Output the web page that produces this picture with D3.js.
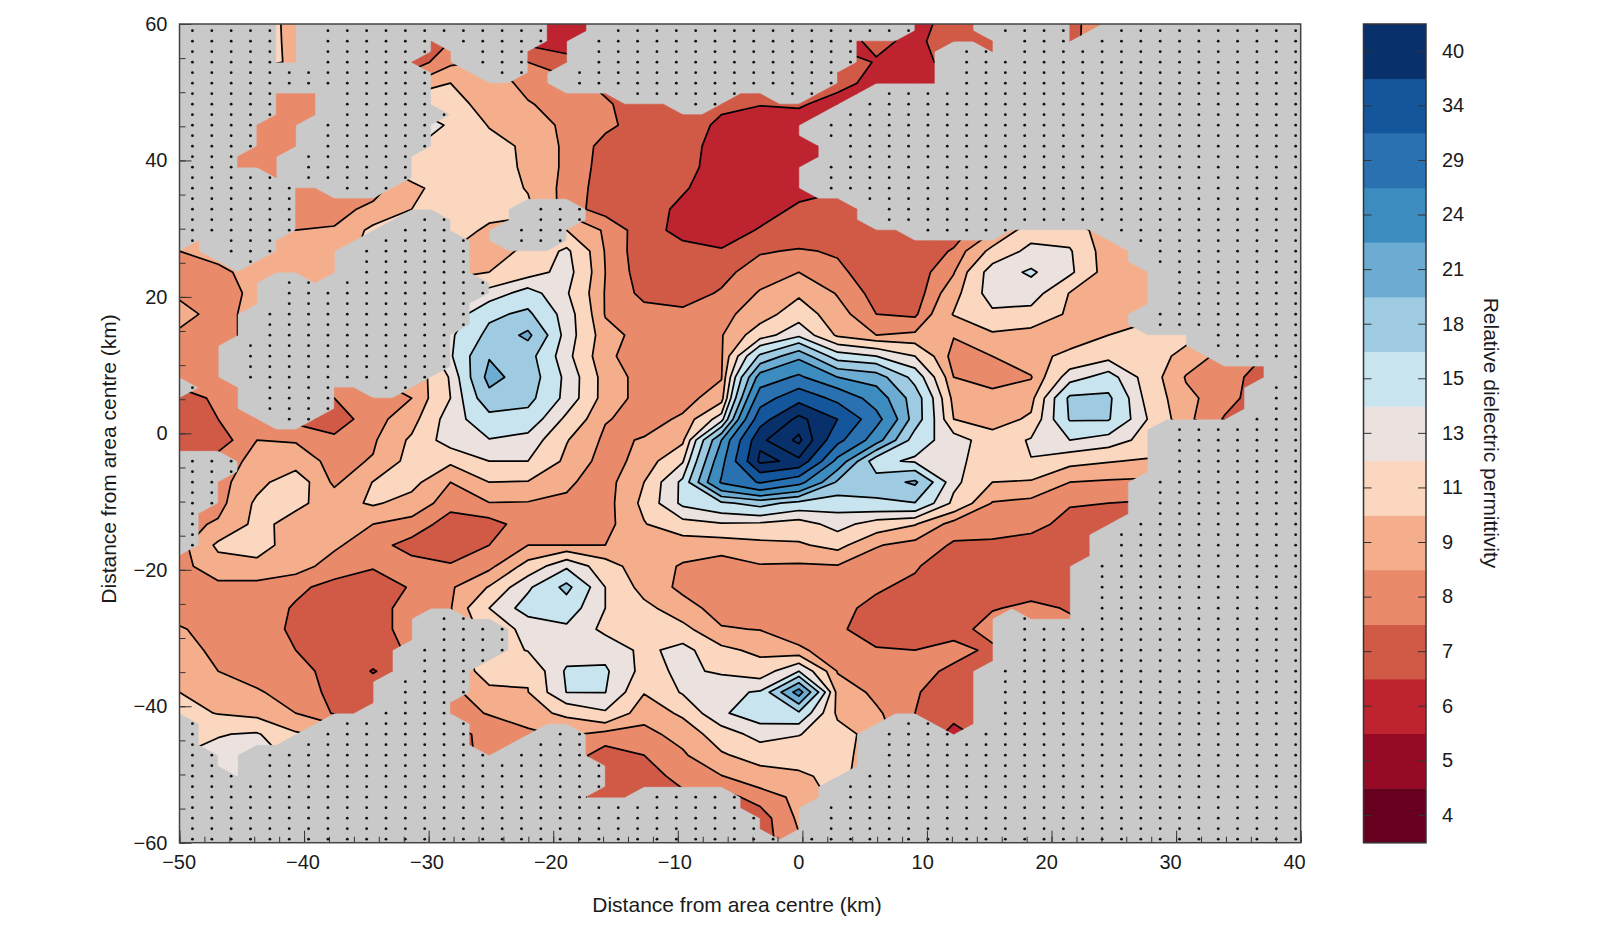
<!DOCTYPE html>
<html>
<head>
<meta charset="utf-8">
<title>Relative dielectric permittivity</title>
<script src="https://cdn.jsdelivr.net/npm/d3@7"></script>
<style>
  html, body { margin: 0; background: #fff; }
  text { font-family: "Liberation Sans", Arial, sans-serif; fill: #1a1a1a; }
</style>
</head>
<body>
<svg id="chart" width="1600" height="933"></svg>
<script>
// Colour bands, lowest first
const barLabels = [4, 5, 6, 7, 8, 9, 11, 13, 15, 18, 21, 24, 29, 34, 40];
const bandColors = ["#67001f", "#970a25", "#bd2430", "#d15a47", "#e98a6b", "#f5ae8b", "#fbd7bf", "#ebe2e0",
  "#c8e4ef", "#9ecae2", "#6dacd2", "#3d8cc0", "#2a71b2", "#14569c", "#08306b"];
// Contour levels, the two top ones stay inside the darkest band
const contourLevels = [3.5, 4.5, 5.5, 6.5, 7.5, 8.5, 10, 12, 14, 16.5, 19.5, 22.5, 26.5, 31.5, 37, 42, 46];

const xTicks = [-50, -40, -30, -20, -10, 0, 10, 20, 30, 40];
const yTicks = [-60, -40, -20, 0, 20, 40, 60];

// Survey nodes: every node sits dxKm / dyKm apart, covered ones listed per row as index runs
const nodeCols = 58;
const dxKm = 1.5536;
const dyKm = 1.539;
const topKm = 60.56;
const dotShiftKm = 1.04;
const coveredRuns = [
  "5-6 19-21 38-41 46-48", "5-6 19-21 38-41 46-47", "5-6 13 19-20 35-42 46", "5-6 13-14 18-20 35-39 42",
  "5-6 12-14 18-20 35-39", "13-15 18-19 34-39", "13-19 34-39", "5-7 13-22 29-30 33-35",
  "5-7 13-25 28-34", "5-7 14-33", "4-6 13-32", "4-6 13-32",
  "4-6 13-33", "3-5 12-33", "3-5 12-32", "5 12-32",
  "6-7 11-32", "6-34", "6-17 21-35", "6-11 14-17 21-35",
  "6-10 14-16 20-37 43-47", "1 5-9 15-16 20-48", "0-1 5-8 15-49", "0-2 4-8 15-49",
  "0-8 15-50", "0-4 7 16-50", "0-4 16-50", "0-4 15-50",
  "0-3 15-49", "0-3 15-49", "0-3 14-52", "0-2 14-52",
  "0-2 14-53", "0-2 14-56", "0-2 13-56", "1-3 8-9 12-55",
  "0-3 8-55", "0-3 8-55", "0-4 7-54", "0-50",
  "0-50", "0-50", "3-50", "3-50",
  "2-49", "2-49", "2-49", "1-49",
  "1-48", "1-47", "1-47", "0-47",
  "0-46", "0-46", "0-46", "0-46",
  "0-46", "0-12 15-42 44-46", "0-12 17-42", "0-12 17-42",
  "0-11 17-42", "0-11 16-42", "0-11 15-41", "0-10 15-41",
  "0-10 15-41", "0-10 14-41", "0-9 14-41", "1-7 15-36 39-41",
  "1-6 15-18 21-35 40", "1-5 15-17 21-35", "2-3 16 21-35", "2-3 22-35",
  "3 22-34", "22-33", "21-23 29-33", "29-32",
  "30-32", "30-32", "31"
];

// Permittivity read at every second node, one row per 2 node rows
const permittivity = [
  [9,9,10.8,9.5,9,8,6.5,7,8,6,5.8,6,6,6,6,6,6,6,6.5,6,7,7,7,7.2,8.2,8,8,8,8,8],
  [9,9,10.7,9.6,9,8,6.8,7.5,8,6.2,5.9,6,6,6,6,6,6,6,6.8,6.2,7.2,7,7.2,7.3,8,8,8,8,8,8],
  [9,9,10.6,9.7,9,8,6.9,8.2,8.6,7.5,6.9,6.5,6.5,6.5,6.5,6.5,6.8,7.3,6.4,6.45,6.55,7,7,7.5,8,8,8,8,8,8],
  [8.5,8.3,8.1,8.1,8.1,8,8.5,10,9.2,8.1,7.8,7.3,6.8,6.8,6.8,6.8,6.8,6.9,6.1,5.9,6,6.5,7,7.5,8,8,8,8,8,8],
  [8.5,8.3,8.2,8.2,8,9,11.5,10.6,9.4,8.6,8,7.6,7.1,6.9,6.7,6.55,6.65,6,6,6,6.3,7,7.5,8,8,8,8,8,8,8],
  [8.5,8.3,8.2,8.1,8,9,14,11.6,9.9,9.2,8.2,7.7,7.1,7,6.3,5.9,5.9,5.9,6,6.2,6.5,7,7.5,8,8,8,8,8,8,8],
  [8.5,8.3,8.2,8.1,8,9.5,12.2,10.9,10.6,9.7,8.2,7.2,7,6.9,6.1,5.9,5.9,6,6.2,6.5,6.8,7,7.5,8,8,8,8,8,8,8],
  [8.5,8.3,8.2,8.1,8,9.5,11.2,11,10.8,9.7,8.2,7.1,6.9,6.8,6.1,5.9,5.9,6,6.3,6.6,6.9,7,7.5,8,8,8,8,8,8,8],
  [8.5,8.3,8.2,8,8,8,9.5,11,10.8,9.9,8,7.1,6.9,6.6,6,5.9,6.1,6.4,6.6,6.8,7,7.2,7.5,8,8,8,8,8,8,8],
  [8.5,8.3,8.2,8.1,8.1,8.8,10,11,10.6,10.3,7.9,7.1,6.9,6.3,5.9,6,6.7,6.9,6.9,7,7,7.3,8.5,9,9,9,9,9,9,9],
  [8.5,8.7,8.6,8.5,8.6,10.4,10.7,10.8,9.7,9.5,10,8.3,6.9,6.2,5.9,6.6,6.8,6.9,6.9,6.9,7,8.3,11,11,9,9,9,9,9,9],
  [8.5,9,9,9.3,9.3,10.5,9.8,10,9.2,10.4,12.4,8.4,6.8,6.8,6.6,7.4,7.6,7.4,6.9,6.9,7.6,10.5,12.6,12.2,8.9,8.8,9,9,9,9],
  [8.3,8.2,9,9.3,9.5,9.5,9.5,9.8,10,11,12.8,8.5,6.9,7,7.2,8,8.5,7.7,7,6.9,8.4,13,14.3,12.4,9,8.8,9,9,9,9],
  [8.3,8,8.8,9.2,9,9,9,10.5,12.7,15,12.2,8.4,7.2,7.1,7.6,8.6,9.7,8.4,7.1,6.9,9.3,13,13,9.9,9.2,9,9,9,9,9],
  [8.9,8.1,8.9,9,9,9,9,12.5,16,17,13,8.4,7.9,7.7,8.1,9.2,11,9,7.5,7.3,10.1,11.6,11.3,9.7,9.3,9.5,9,9,9,9],
  [8.3,8.1,8.9,9,9,9,9,13.6,17.2,20.2,13,9,8,8.1,8.4,11,13.5,9.7,8.5,8.7,8.6,9.7,9.3,9.2,10,10.7,10.6,9,9,9],
  [8.2,8.2,8.4,9,9,9,9,13.7,19.3,17.5,12.6,8.7,8,8,8.3,17,21.6,15,14,12,7.9,8.5,9.5,10.4,11.3,11,9.4,8,7.5,8],
  [8.3,8.1,8.1,8.5,8.5,8.5,8.5,12.2,20.5,18,13.4,9.2,8,8,8.4,24,27.2,22.5,21,15.5,8.5,7.9,8.4,13,15,11,8.4,8,7,7.5],
  [6.8,7.8,7.8,7.5,7.5,7.5,8.5,12,18.5,17.3,13.3,9.2,8,8,9.2,29,35.2,30,24.5,18,9.4,9,9.4,17,17,11.3,8.8,7.9,6.9,7.5],
  [6.9,7.5,8,7.2,7,8,9.3,13,15.5,15.5,11.5,8.6,8,8.7,13,34.7,43.4,37,28,18,10,9.2,10.3,16.7,16.7,12,8.8,7.4,7,7.5],
  [6.9,6.9,8.5,8.4,7.7,8.3,10.3,13,13.9,13.2,10.1,8.2,8.6,9.6,22.5,41,47,33,24,15,13,10.8,12.2,14,13,11.3,11,9,8,8],
  [7,8,8.8,9.2,8.1,8.6,10.6,10.3,12,12,9.6,7.9,9,11.8,25,43,41,25,14.5,13.7,12.5,11,11.95,10.5,10.1,9.8,9.8,9,8,8],
  [7,8,9.5,11,8.2,10.05,10.5,8.5,10,9.9,8.7,7.9,10,14.5,27,32,28,19,18,20,12.5,10,9.8,8.5,8.3,8.2,8.2,8,8,8],
  [8,8,10.3,10.3,9.4,10.2,9.4,7.8,8.45,8.4,8.3,7.9,10.4,14.5,16,17.5,15.6,15,16,16.4,11.5,8.4,8.1,7.6,7.5,7.4,7.5,7.5,7.5,7.5],
  [8,8.7,10.4,9.5,9,8.5,8,7.1,7.1,8,8,8,9.9,11.2,11.8,11.6,11,12.8,11,10.1,7.9,8,7.9,7.1,6.9,6.9,7,7,7,7],
  [8,10.3,10.6,9.3,8.7,7.8,7.2,6.9,7.5,8.5,8.5,8.5,9.4,9,9,9.5,9.8,10.5,8.6,8,7.4,7.3,7,6.7,6.7,7,7,7,7,7],
  [8,9.4,9.6,9,8,7.6,7.8,7.6,8.1,10.6,13.6,10.8,9,8.4,8,8.4,8.3,8.4,7.8,7.6,6.9,6.8,6.8,6.7,7,7,7,7,7,7],
  [8,8.1,8,7.7,7.2,6.9,7.6,8.3,10.1,13.6,17.2,12,9.3,8.2,7.9,7.9,7.9,7.8,7.6,7.3,6.8,6.8,6.9,7.1,7,7,7,7,7,7],
  [8,8,8,7.4,6.9,6.9,8.1,8.4,12,15,15.2,12,10.5,9,8,7.9,7.9,7.7,7.3,6.9,6.8,7.4,7.8,7.4,7,7,7,7,7,7],
  [8.6,8.1,8,7.3,6.8,7.3,7.7,8,11,12.5,13.6,11.5,10.8,10.5,8.6,8.45,7.9,7.7,6.9,6.8,6.9,8.1,8.2,7.8,7,7,7,7,7,7],
  [9,8.2,8,7.5,6.8,6.9,7.7,9,11,12.1,13,13.3,11.5,12.7,10.4,9.6,8.7,7.9,7.6,7.5,8,7.2,7.5,7,7,7,7,7,7,7],
  [9.2,8.5,8.1,7.9,7.1,6.45,7,9,10.6,10.2,14.3,14.3,11.3,12.4,11.7,10.8,14,8.4,8.1,8,7.2,7,7,7,7,7,7,7,7,7],
  [10,9.2,8.6,8.1,7.2,6.9,7.5,8,9.7,9.95,14.05,14.05,10.1,12.2,13.5,14.2,24,9.3,8.2,7.6,6.9,7,7,7,7,7,7,7,7,7],
  [10.7,9.9,9.4,8.5,7.4,7,7.5,8.2,8.55,9.5,10.3,11.7,9,10.3,13.7,15.2,16,9.6,8.7,7.5,6.8,7,7,7,7,7,7,7,7,7],
  [11.5,11.9,12.2,10.2,9.5,8,8,6.9,8,8.1,8.8,8,8.1,9,10.9,12.8,12.1,10.8,9.2,7.3,6.2,6.9,7,7,7,7,7,7,7,7],
  [12,12.5,12.8,11.5,8,8,8,6.9,7.9,8,8,7.1,7.5,8.3,9.8,10.7,10.8,10.7,9,7.5,7,7,7,7,7,7,7,7,7,7],
  [12,12,12,11,8,8,8,7,8,8,8,7,7.1,7.8,8.45,9.3,9.7,10.5,9,7.5,7.5,7.5,7.5,7.5,7.5,7.5,7.5,7.5,7.5,7.5],
  [12,12,12,11,8,8,8,7,8,8,8,7,7,7.3,7.1,7.9,8.8,10.5,9,7.5,7.5,7.5,7.5,7.5,7.5,7.5,7.5,7.5,7.5,7.5],
  [12,12,12,11,8,8,8,7,8,8,8,7,7,7,7,7,8.7,10,9,7.5,7.5,7.5,7.5,7.5,7.5,7.5,7.5,7.5,7.5,7.5],
  [12,12,12,11,8,8,8,7,8,8,8,7,7,7,7,7,8.4,10,9,7.5,7.5,7.5,7.5,7.5,7.5,7.5,7.5,7.5,7.5,7.5]
];

const svg = d3.select("#chart");
const margin = { top: 24, right: 299.3, bottom: 90.3, left: 179.5 };
const width = 1600 - margin.left - margin.right;
const height = 933 - margin.top - margin.bottom;

const x = d3.scaleLinear().domain([-50, 40]).range([0, width]);
const y = d3.scaleLinear().domain([-60, 60]).range([height, 0]);
// The x labels run a little tighter than the ticks in the original figure
const xLabelScale = d3.scaleLinear().domain([-50, 40]).range([-0.9, width - 6.7]);

const plot = svg.append("g").attr("transform", `translate(${margin.left},${margin.top})`);
const defs = svg.append("defs");

const nodeX = i => x(-50 + i * dxKm);
const nodeY = j => y(topKm - j * dyKm);

// Which nodes are covered
const covered = coveredRuns.map(row => {
  const flags = new Array(nodeCols).fill(false);
  row.split(" ").forEach(run => {
    const [a, b] = run.split("-").map(Number);
    d3.range(a, (b === undefined ? a : b) + 1).forEach(i => flags[i] = true);
  });
  return flags;
});

// Coverage outline: full cells, and half cells where only 3 corners are covered
let outline = "";
for (let j = 0; j < covered.length - 1; j++) {
  for (let i = 0; i < nodeCols - 1; i++) {
    const corners = [[i, j], [i + 1, j], [i + 1, j + 1], [i, j + 1]].filter(c => covered[c[1]][c[0]]);
    if (corners.length >= 3) {
      outline += "M" + corners.map(c => `${nodeX(c[0])},${nodeY(c[1])}`).join("L") + "Z";
    }
  }
}

defs.append("clipPath").attr("id", "plot-area")
  .append("rect").attr("width", width).attr("height", height);
defs.append("mask").attr("id", "coverage").attr("maskUnits", "userSpaceOnUse")
  .attr("x", -20).attr("y", -20).attr("width", width + 40).attr("height", height + 40)
  .append("path")
  .attr("d", outline)
  .attr("fill", "#fff")
  .attr("stroke", "#fff")
  .attr("stroke-width", 0.6);

// Grey background and stipple where there is no coverage
const inside = plot.append("g").attr("clip-path", "url(#plot-area)");
inside.append("rect").attr("width", width).attr("height", height).attr("fill", "#c9c9c9");

const dots = [];
covered.forEach((flags, j) => {
  if (j === 0) return;
  flags.forEach((isCovered, i) => { if (!isCovered) dots.push([i, j]); });
});
inside.selectAll("circle.dot")
  .data(dots)
  .enter()
  .append("circle")
  .attr("class", "dot")
  .attr("cx", d => x(-50 + d[0] * dxKm + dotShiftKm))
  .attr("cy", d => nodeY(d[1]))
  .attr("r", 1.4)
  .attr("fill", "#111");

// Filled contours, contour coordinates put a value at index + 0.5
const contours = d3.contours()
  .size([permittivity[0].length, permittivity.length])
  .thresholds(contourLevels)(permittivity.flat());

const toPlot = d3.geoTransform({
  point(cx, cy) {
    this.stream.point(nodeX(2 * (cx - 0.5)), nodeY(2 * (cy - 0.5)));
  }
});
const contourPath = d3.geoPath(toPlot);

const field = inside.append("g").attr("mask", "url(#coverage)");
field.selectAll("path.band")
  .data(contours)
  .enter()
  .append("path")
  .attr("class", "band")
  .attr("d", contourPath)
  .attr("fill", (d, i) => bandColors[Math.min(i, bandColors.length - 1)]);
field.selectAll("path.isoline")
  .data(contours)
  .enter()
  .append("path")
  .attr("class", "isoline")
  .attr("d", contourPath)
  .attr("fill", "none")
  .attr("stroke", "#000")
  .attr("stroke-width", 1.7)
  .attr("stroke-linejoin", "round");

// Axes, ticks point inwards
function styleAxis(g) {
  g.select(".domain").remove();
  g.selectAll("line").attr("stroke", "#333").attr("stroke-width", 1);
  g.selectAll("text").style("font-size", "20px").attr("fill", "#1a1a1a");
}

plot.append("g").attr("transform", `translate(0,${height})`)
  .call(d3.axisBottom(x).tickValues(d3.range(-50, 41, 2)).tickSize(-6).tickFormat(""))
  .call(styleAxis);
plot.append("g").attr("transform", `translate(0,${height})`)
  .call(d3.axisBottom(x).tickValues(xTicks).tickSize(-12).tickFormat(""))
  .call(styleAxis);
plot.append("g").attr("transform", `translate(0,${height})`)
  .call(d3.axisBottom(xLabelScale).tickValues(xTicks).tickSize(0).tickPadding(12).tickFormat(d3.format("d")))
  .call(styleAxis);
plot.append("g")
  .call(d3.axisLeft(y).tickValues(d3.range(-60, 61, 5)).tickSize(-6).tickFormat(""))
  .call(styleAxis);
plot.append("g")
  .call(d3.axisLeft(y).tickValues(yTicks).tickSize(-12).tickPadding(12).tickFormat(d3.format("d")))
  .call(styleAxis);

plot.append("rect")
  .attr("width", width)
  .attr("height", height)
  .attr("fill", "none")
  .attr("stroke", "#444")
  .attr("stroke-width", 1.5);

svg.append("text")
  .attr("x", 737)
  .attr("y", 912)
  .attr("text-anchor", "middle")
  .style("font-size", "21px")
  .text("Distance from area centre (km)");
svg.append("text")
  .attr("transform", "translate(116,459) rotate(-90)")
  .attr("text-anchor", "middle")
  .style("font-size", "21px")
  .text("Distance from area centre (km)");

// Colour bar
const barX = 1363.5;
const barWidth = 62.5;
const bar = svg.append("g").attr("transform", `translate(${barX},${margin.top})`);
const barScale = d3.scaleBand().domain(barLabels).range([height, 0]);

bar.selectAll("rect.swatch")
  .data(barLabels)
  .enter()
  .append("rect")
  .attr("class", "swatch")
  .attr("y", d => barScale(d))
  .attr("width", barWidth)
  .attr("height", barScale.bandwidth() + 0.5)
  .attr("fill", (d, i) => bandColors[i]);

bar.append("g")
  .call(d3.axisLeft(barScale).tickSize(-8).tickFormat(""))
  .call(styleAxis);
bar.append("g").attr("transform", `translate(${barWidth},0)`)
  .call(d3.axisRight(barScale).tickSize(-8).tickPadding(16))
  .call(styleAxis);

bar.append("rect")
  .attr("width", barWidth)
  .attr("height", height)
  .attr("fill", "none")
  .attr("stroke", "#333")
  .attr("stroke-width", 1.5);

svg.append("text")
  .attr("transform", "translate(1484,433) rotate(90)")
  .attr("text-anchor", "middle")
  .style("font-size", "21px")
  .text("Relative dielectric permittivity");
</script>
</body>
</html>
